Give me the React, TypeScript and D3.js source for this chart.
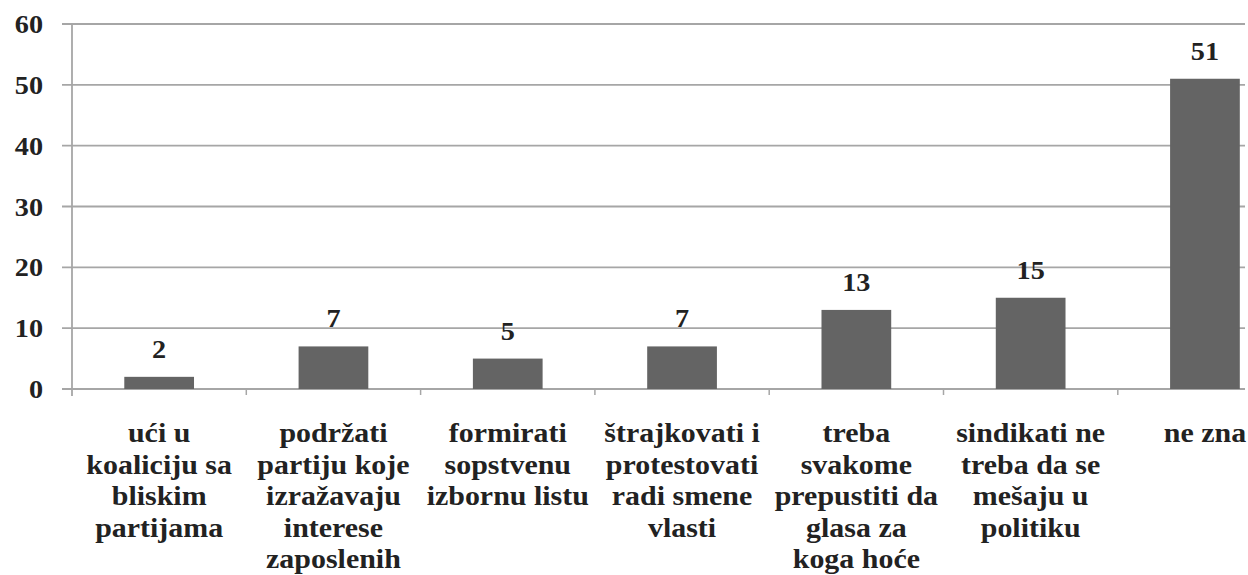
import React from "react";
import * as d3 from "d3";

const categories: string[][] = [
  ["ući u", "koaliciju sa", "bliskim", "partijama"],
  ["podržati", "partiju koje", "izražavaju", "interese", "zaposlenih"],
  ["formirati", "sopstvenu", "izbornu listu"],
  ["štrajkovati i", "protestovati", "radi smene", "vlasti"],
  ["treba", "svakome", "prepustiti da", "glasa za", "koga hoće"],
  ["sindikati ne", "treba da se", "mešaju u", "politiku"],
  ["ne zna"],
];
const values: number[] = [2, 7, 5, 7, 13, 15, 51];
const yTicks: number[] = [0, 10, 20, 30, 40, 50, 60];

const W = 1248;
const H = 575;
const AXIS_X = 72;
const BAND = 174.3;
const GRID_END = 1245;
const SX = 1.13;
const FONT = "'Liberation Serif', 'Times New Roman', serif";
const TEXT = "#222222";

export default function App() {
  const idx = categories.map((_, i) => String(i));
  const x = d3
    .scaleBand<string>()
    .domain(idx)
    .range([AXIS_X, AXIS_X + BAND * categories.length])
    .padding(0);
  const y = d3.scaleLinear().domain([0, 60]).range([389, 24]);
  const bw = x.bandwidth() * 0.4;

  return (
    <div style={{ position: "fixed", left: 0, top: 0 }}>
      <svg width={W} height={H} style={{ display: "block", background: "#fff" }}>
        {/* gridlines */}
        {yTicks.map((t) => (
          <line
            key={"g" + t}
            x1={AXIS_X - 10}
            x2={GRID_END}
            y1={y(t)}
            y2={y(t)}
            stroke="#a6a6a6"
            strokeWidth={1.8}
          />
        ))}
        {/* y axis */}
        <line x1={AXIS_X} x2={AXIS_X} y1={y(60)} y2={y(0) + 7} stroke="#a6a6a6" strokeWidth={1.8} />
        {/* category ticks */}
        {idx.slice(1).map((k) => (
          <line
            key={"t" + k}
            x1={x(k)!}
            x2={x(k)!}
            y1={y(0)}
            y2={y(0) + 6}
            stroke="#a6a6a6"
            strokeWidth={1.5}
          />
        ))}
        {/* y tick labels */}
        {yTicks.map((t) => (
          <text
            key={"yl" + t}
            transform={`translate(43,${y(t) + 9}) scale(${SX},1)`}
            textAnchor="end"
            fontFamily={FONT}
            fontWeight="bold"
            fontSize={25}
            fill={TEXT}
          >
            {t}
          </text>
        ))}
        {/* bars */}
        {values.map((v, i) => {
          const cx = x(String(i))! + x.bandwidth() / 2;
          return (
            <g key={"b" + i}>
              <rect x={cx - bw / 2} y={y(v)} width={bw} height={y(0) - y(v)} fill="#646464" />
              <text
                transform={`translate(${cx},${y(v) - 19}) scale(${SX},1)`}
                textAnchor="middle"
                fontFamily={FONT}
                fontWeight="bold"
                fontSize={25}
                fill={TEXT}
              >
                {v}
              </text>
            </g>
          );
        })}
        {/* category labels */}
        {categories.map((lines, i) => {
          const cx = x(String(i))! + x.bandwidth() / 2;
          return (
            <g key={"c" + i}>
              {lines.map((ln, j) => (
                <text
                  key={j}
                  transform={`translate(${cx},${442 + j * 31.5}) scale(${SX},1)`}
                  textAnchor="middle"
                  fontFamily={FONT}
                  fontWeight="bold"
                  fontSize={26.5}
                  fill={TEXT}
                >
                  {ln}
                </text>
              ))}
            </g>
          );
        })}
      </svg>
    </div>
  );
}
